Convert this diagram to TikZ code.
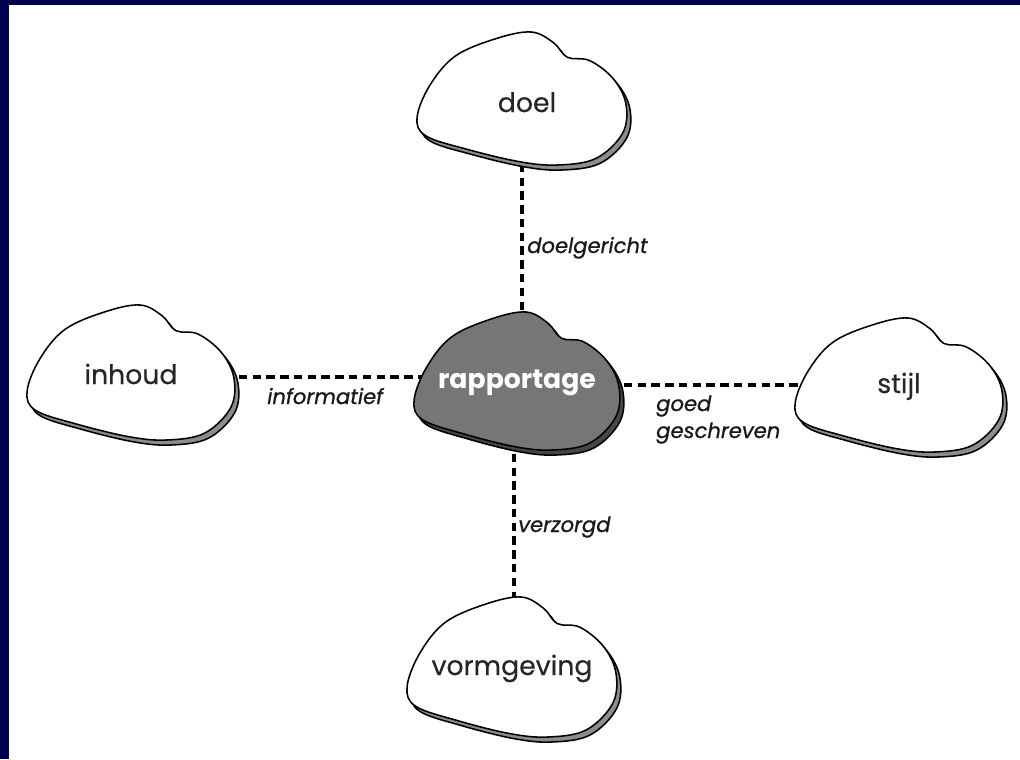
\documentclass[tikz,border=0pt]{standalone}
\usepackage{fontspec}
\setmainfont{Poppins}
\newfontfamily\linkfont[FakeBold=0.8]{Poppins}
\newfontfamily\cloudfont[FakeBold=0.4]{Poppins}
\definecolor{navyband}{RGB}{0,0,80}
\definecolor{shadowgray}{RGB}{140,140,140}
\definecolor{coregray}{RGB}{118,118,118}
\definecolor{coreshadow}{RGB}{70,70,70}
\newcommand\mycloud[6]{%
  \begin{scope}[shift={(#1,#2)}]
    \begin{scope}[shift={(4,5)},xscale=#3,yscale=#4]
      \filldraw[fill=#6,cloudline] plot[smooth cycle,tension=0.6] coordinates {(0.01,0.64) (0.07,0.40) (0.19,0.18) (0.38,0.05) (0.545,0) (0.65,0.08) (0.715,0.19) (0.82,0.215) (0.93,0.35) (0.99,0.54) (0.975,0.76) (0.85,0.95) (0.67,1.0) (0.49,0.975) (0.24,0.88) (0.05,0.78)};
    \end{scope}
    \begin{scope}[xscale=#3,yscale=#4]
      \filldraw[fill=#5,cloudline] plot[smooth cycle,tension=0.6] coordinates {(0.01,0.64) (0.07,0.40) (0.19,0.18) (0.38,0.05) (0.545,0) (0.65,0.08) (0.715,0.19) (0.82,0.215) (0.93,0.35) (0.99,0.54) (0.975,0.76) (0.85,0.95) (0.67,1.0) (0.49,0.975) (0.24,0.88) (0.05,0.78)};
    \end{scope}
  \end{scope}}
\begin{document}
\begin{tikzpicture}[x=0.025cm,y=-0.025cm,
  cloudline/.style={draw=black,line width=1.1pt},
  link/.style={line width=3.2pt,dash pattern=on 6pt off 3.8pt},
  cloudtext/.style={inner sep=0pt,font=\cloudfont\fontsize{19}{22}\selectfont,text=black!85},
  coretext/.style={inner sep=0pt,font=\fontsize{19}{22}\selectfont\bfseries,text=white},
  linktext/.style={inner sep=0pt,font=\linkfont\fontsize{15}{17}\selectfont\itshape,text=black!90,align=left}]
\useasboundingbox (0,0) rectangle (1020,759);
\fill[white] (0,0) rectangle (1020,759);
\fill[navyband] (0,0) rectangle (1020,5);
\fill[navyband] (0,0) rectangle (9,759);
% connector ends
\coordinate (doelS) at (522,150);
\coordinate (rapN) at (522,330);
\coordinate (rapS) at (514,440);
\coordinate (vormN) at (514,615);
\coordinate (inhE) at (225,377);
\coordinate (rapW) at (430,377);
\coordinate (rapE) at (610,385);
\coordinate (stijlW) at (810,385);
\draw[link] (doelS) -- (rapN);
\draw[link] (rapS) -- (vormN);
\draw[link] (inhE) -- (rapW);
\draw[link] (rapE) -- (stijlW);
% clouds
\mycloud{415}{32}{213}{133}{white}{shadowgray}
\mycloud{25}{305}{211}{135}{white}{shadowgray}
\mycloud{793}{318}{211}{134}{white}{shadowgray}
\mycloud{405}{597}{213}{140}{white}{shadowgray}
\mycloud{412}{312}{209}{138}{coregray}{coreshadow}
% texts
\node[cloudtext,anchor=base] (doel) at (527,112) {doel};
\node[cloudtext,anchor=base] (inhoud) at (131,384) {inhoud};
\node[cloudtext,anchor=base] (stijl) at (899,393) {stijl};
\node[cloudtext,anchor=base] (vorm) at (512,675) {vormgeving};
\node[coretext,anchor=base] (rap) at (517,388) {rapportage};
\node[linktext,anchor=base west] (l1) at (527,253) {doelgericht};
\node[linktext,anchor=base west] (l2) at (267,404) {informatief};
\node[linktext,anchor=base west] (l3) at (656,411) {goed};
\node[linktext,anchor=base west] (l4) at (656,438) {geschreven};
\node[linktext,anchor=base west] (l5) at (518,532) {verzorgd};
\end{tikzpicture}
\end{document}
